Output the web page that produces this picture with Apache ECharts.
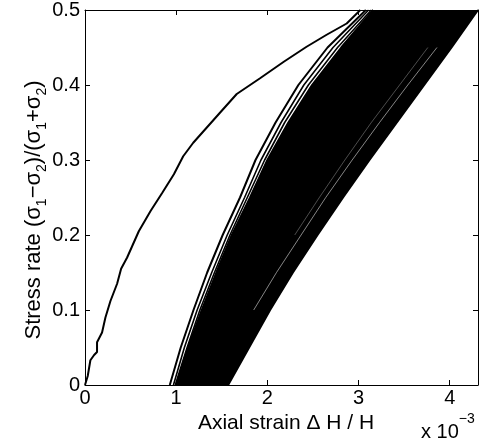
<!DOCTYPE html>
<html>
<head>
<meta charset="utf-8">
<script src="https://cdn.jsdelivr.net/npm/echarts@6/dist/echarts.min.js"></script>
<style>html,body{margin:0;padding:0;background:#fff;}#c{width:486px;height:445px;}</style>
</head>
<body>
<div id="c"></div>
<script>
// ---- data (x in units of 1e-3, y = stress rate) ----
const xTicks = [0, 1, 2, 3, 4];
const yTicks = [0, 0.1, 0.2, 0.3, 0.4, 0.5];

// single leftmost curve
const leftCurveX = [0, 0.03, 0.059, 0.10, 0.132, 0.132, 0.187, 0.224, 0.279, 0.352, 0.396, 0.462, 0.59, 0.719, 0.846, 0.975, 1.077, 1.187, 1.297, 1.48, 1.664, 1.92, 2.18, 2.43, 2.65, 2.87, 3.02];
const leftCurveY = [0, 0.012, 0.033, 0.040, 0.044, 0.057, 0.070, 0.090, 0.112, 0.135, 0.155, 0.170, 0.205, 0.232, 0.256, 0.281, 0.305, 0.323, 0.338, 0.363, 0.388, 0.409, 0.431, 0.451, 0.467, 0.482, 0.5];

// band of curves: x read at these stress levels
const bandY      = [0, 0.05, 0.10, 0.15, 0.20, 0.25, 0.30, 0.35, 0.40, 0.45, 0.50];
const bandOuterL = [0.93, 1.05, 1.19, 1.34, 1.51, 1.70, 1.87, 2.09, 2.34, 2.66, 3.08];
const bandSecond = [0.97, 1.09, 1.23, 1.39, 1.56, 1.75, 1.93, 2.15, 2.40, 2.72, 3.11];
const bandThird  = [0.99, 1.12, 1.26, 1.42, 1.59, 1.78, 1.97, 2.19, 2.45, 2.77, 3.14];
const bandFillL  = [1.00, 1.13, 1.28, 1.44, 1.61, 1.81, 2.00, 2.23, 2.49, 2.81, 3.16];
const bandOuterR = [1.57, 1.80, 2.03, 2.28, 2.55, 2.83, 3.12, 3.42, 3.72, 4.02, 4.31];

// visible thin gaps between curves inside the band
const gapAY = [0.10, 0.15, 0.20, 0.25, 0.30, 0.35, 0.40, 0.45];
const gapAX = [1.85, 2.10, 2.37, 2.64, 2.93, 3.23, 3.54, 3.86];
const gapBY = [0.20, 0.25, 0.30, 0.35, 0.40, 0.45];
const gapBX = [2.30, 2.57, 2.85, 3.14, 3.45, 3.76];

const xMax = 4.31, yMax = 0.5;

// ---- chart ----
const FONT = "'Liberation Sans', Arial, Helvetica, sans-serif";
const pairs = (xs, ys) => xs.map((x, i) => [x, ys[i]]);
const lineSeries = (xs, ys, color, width, z, opacity) => ({
  type: 'line', data: pairs(xs, ys), showSymbol: false, symbol: 'none',
  lineStyle: { color: color, width: width, opacity: opacity == null ? 1 : opacity }, z: z, silent: true, animation: false
});

const chart = echarts.init(document.getElementById('c'), null, { renderer: 'canvas' });
const axisLine = { show: true, onZero: false, lineStyle: { color: '#000', width: 1 } };
const tickIn = { show: true, inside: true, length: 5, lineStyle: { color: '#000', width: 1 } };

chart.setOption({
  animation: false,
  backgroundColor: '#fff',
  grid: { left: 85, right: 8, top: 9, bottom: 60, containLabel: false },
  xAxis: [
    {
      type: 'value', min: 0, max: xMax, interval: 1, position: 'bottom',
      axisLine: axisLine, axisTick: tickIn, splitLine: { show: false },
      axisLabel: {
        color: '#000', fontFamily: FONT, fontSize: 20, margin: 3, showMaxLabel: false,
        formatter: v => (xTicks.indexOf(v) >= 0 ? String(v) : '')
      },
      name: 'Axial strain \u0394 H / H', nameLocation: 'middle', nameGap: 22,
      nameTextStyle: { color: '#000', fontFamily: FONT, fontSize: 21, padding: [0, 0, 0, 9] }
    },
    {
      type: 'value', min: 0, max: xMax, interval: 1, position: 'top',
      axisLine: axisLine, axisTick: tickIn, axisLabel: { show: false }, splitLine: { show: false }
    }
  ],
  yAxis: [
    {
      type: 'value', min: 0, max: yMax, interval: 0.1, position: 'left',
      axisLine: axisLine, axisTick: tickIn, splitLine: { show: false },
      axisLabel: {
        color: '#000', fontFamily: FONT, fontSize: 20, margin: 5,
        formatter: v => { const t = yTicks.find(k => Math.abs(k - v) < 1e-9); return t === undefined ? '' : (t === 0 ? '0' : t.toFixed(1)); }
      }
    },
    {
      type: 'value', min: 0, max: yMax, interval: 0.1, position: 'right',
      axisLine: axisLine, axisTick: tickIn, axisLabel: { show: false }, splitLine: { show: false }
    }
  ],
  series: [
    {
      type: 'custom', silent: true, z: 1, data: [[0, 0]],
      renderItem: (params, api) => {
        const pts = [];
        for (let i = 0; i < bandY.length; i++) pts.push(api.coord([bandFillL[i], bandY[i]]));
        for (let i = bandY.length - 1; i >= 0; i--) pts.push(api.coord([bandOuterR[i], bandY[i]]));
        return { type: 'polygon', shape: { points: pts }, style: { fill: '#000', stroke: null } };
      }
    },
    lineSeries(gapAX, gapAY, '#fff', 0.7, 3, 0.75),
    lineSeries(gapBX, gapBY, '#fff', 0.5, 3, 0.6),
    lineSeries(bandOuterR, bandY, '#000', 2, 4),
    lineSeries(bandFillL, bandY, '#000', 2, 4),
    lineSeries(bandThird, bandY, '#000', 1.6, 4),
    lineSeries(bandSecond, bandY, '#000', 1.6, 4),
    lineSeries(bandOuterL, bandY, '#000', 2, 4),
    lineSeries(leftCurveX, leftCurveY, '#000', 2, 5)
  ],
  graphic: [
    {
      type: 'text', x: 36, y: 210, rotation: Math.PI / 2, silent: true,
      style: {
        text: '{n|Stress rate (\u03c3}{s|1}{n|\u2212\u03c3}{s|2}{n|)/(\u03c3}{s|1}{n|+\u03c3}{s|2}{n|)}',
        align: 'center', verticalAlign: 'middle', fill: '#000',
        rich: {
          n: { fontFamily: FONT, fontSize: 22, lineHeight: 26, verticalAlign: 'top', fill: '#000' },
          s: { fontFamily: FONT, fontSize: 14, lineHeight: 15, verticalAlign: 'bottom', fill: '#000' }
        }
      }
    },
    {
      type: 'text', x: 421, y: 412, silent: true,
      style: {
        text: '{n|x 10}{p|\u22123}',
        align: 'left', verticalAlign: 'top', fill: '#000',
        rich: {
          n: { fontFamily: FONT, fontSize: 20, lineHeight: 30, verticalAlign: 'bottom', fill: '#000' },
          p: { fontFamily: FONT, fontSize: 14, lineHeight: 22, verticalAlign: 'top', fill: '#000' }
        }
      }
    }
  ]
});
</script>
</body>
</html>
